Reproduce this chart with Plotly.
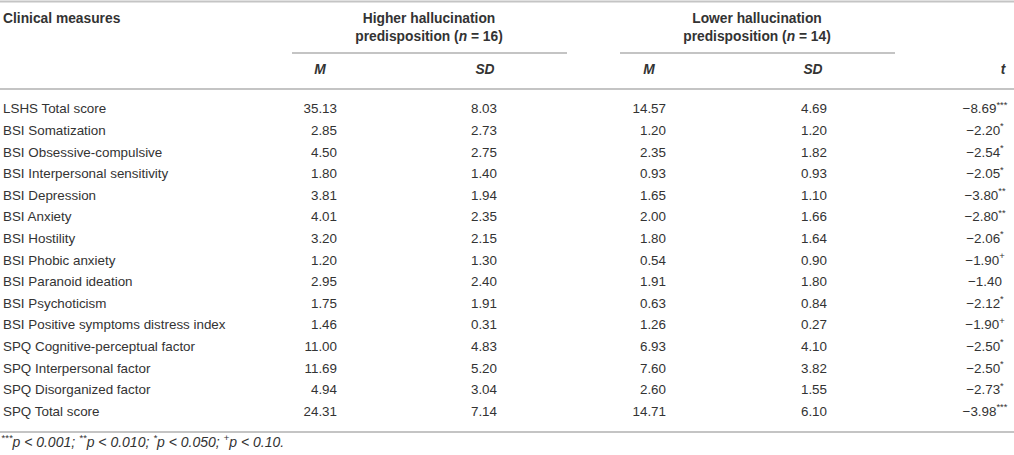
import plotly.graph_objects as go

# ---------------- data ----------------
measures = [
    "LSHS Total score",
    "BSI Somatization",
    "BSI Obsessive-compulsive",
    "BSI Interpersonal sensitivity",
    "BSI Depression",
    "BSI Anxiety",
    "BSI Hostility",
    "BSI Phobic anxiety",
    "BSI Paranoid ideation",
    "BSI Psychoticism",
    "BSI Positive symptoms distress index",
    "SPQ Cognitive-perceptual factor",
    "SPQ Interpersonal factor",
    "SPQ Disorganized factor",
    "SPQ Total score",
]
high_m = [35.13, 2.85, 4.50, 1.80, 3.81, 4.01, 3.20, 1.20, 2.95, 1.75, 1.46, 11.00, 11.69, 4.94, 24.31]
high_sd = [8.03, 2.73, 2.75, 1.40, 1.94, 2.35, 2.15, 1.30, 2.40, 1.91, 0.31, 4.83, 5.20, 3.04, 7.14]
low_m = [14.57, 1.20, 2.35, 0.93, 1.65, 2.00, 1.80, 0.54, 1.91, 0.63, 1.26, 6.93, 7.60, 2.60, 14.71]
low_sd = [4.69, 1.20, 1.82, 0.93, 1.10, 1.66, 1.64, 0.90, 1.80, 0.84, 0.27, 4.10, 3.82, 1.55, 6.10]
t_vals = [-8.69, -2.20, -2.54, -2.05, -3.80, -2.80, -2.06, -1.90, -1.40, -2.12, -1.90, -2.50, -2.50, -2.73, -3.98]
t_sig = ["***", "*", "*", "*", "**", "**", "*", "+", "", "*", "+", "*", "*", "*", "***"]

header_group1 = ["Higher hallucination", "predisposition (<i>n</i> = 16)"]
header_group2 = ["Lower hallucination", "predisposition (<i>n</i> = 14)"]
footnote = ("<i><sup>***</sup>p &lt; 0.001; <sup>**</sup>p &lt; 0.010; "
            "<sup>*</sup>p &lt; 0.050; <sup>+</sup>p &lt; 0.10.</i>")

# ---------------- layout constants ----------------
W, H = 1014, 455
TXT = "#333333"
RULE = "#c4c4c4"
FONT = "Liberation Sans, Arial, Helvetica, sans-serif"
row0, row_h = 110.0, 21.6
ys = [row0 + i * row_h for i in range(len(measures))]

X_LABEL = 3
X_HM_R, X_HSD_R, X_LM_R, X_LSD_R = 337, 497, 666, 827
X_T = 985
BODY = 13.4
HEAD = 13.8

fmt = lambda v: f"{v:.2f}"
fmt_t = lambda v: ("\u2212" if v < 0 else "") + f"{abs(v):.2f}"

fig = go.Figure()

def text_trace(x, y, text, pos, size=BODY):
    fig.add_trace(go.Scatter(
        x=x, y=y, text=text, mode="text", textposition=pos,
        textfont=dict(family=FONT, size=size, color=TXT),
        hoverinfo="skip", showlegend=False, cliponaxis=False,
    ))

# body
text_trace([X_LABEL] * len(ys), ys, measures, "middle right")
text_trace([X_HM_R] * len(ys), ys, [fmt(v) for v in high_m], "middle left")
text_trace([X_HSD_R] * len(ys), ys, [fmt(v) for v in high_sd], "middle left")
text_trace([X_LM_R] * len(ys), ys, [fmt(v) for v in low_m], "middle left")
text_trace([X_LSD_R] * len(ys), ys, [fmt(v) for v in low_sd], "middle left")
text_trace([X_T] * len(ys), ys,
           [fmt_t(v) + (f"<sup>{s}</sup>" if s else "") for v, s in zip(t_vals, t_sig)],
           "middle center")

# headers
text_trace([X_LABEL], [20], ["<b>Clinical measures</b>"], "middle right", HEAD)
text_trace([429, 429], [20, 38], [f"<b>{s}</b>" for s in header_group1], "middle center", HEAD)
text_trace([757, 757], [20, 38], [f"<b>{s}</b>" for s in header_group2], "middle center", HEAD)
text_trace([320, 485, 649, 813, 1003], [71] * 5,
           ["<b><i>M</i></b>", "<b><i>SD</i></b>", "<b><i>M</i></b>", "<b><i>SD</i></b>", "<b><i>t</i></b>"],
           "middle center", HEAD)

# footnote
text_trace([1], [443], [footnote], "middle right", size=14)

# rules
rules = [(0, W, 1.5), (292, 567, 53), (620, 895, 53), (0, W, 89), (0, W, 432)]
for x0, x1, y in rules:
    fig.add_shape(type="line", x0=x0, x1=x1, y0=y, y1=y, xref="x", yref="y",
                  line=dict(color=RULE, width=2))

fig.update_layout(
    width=W, height=H,
    margin=dict(l=0, r=0, t=0, b=0),
    paper_bgcolor="white", plot_bgcolor="white",
    xaxis=dict(range=[0, W], visible=False, fixedrange=True),
    yaxis=dict(range=[H, 0], visible=False, fixedrange=True),
    showlegend=False,
)

fig.write_html("out.html", config={"displayModeBar": False},
               post_script="document.body.style.margin='0';document.body.style.overflow='hidden';")
